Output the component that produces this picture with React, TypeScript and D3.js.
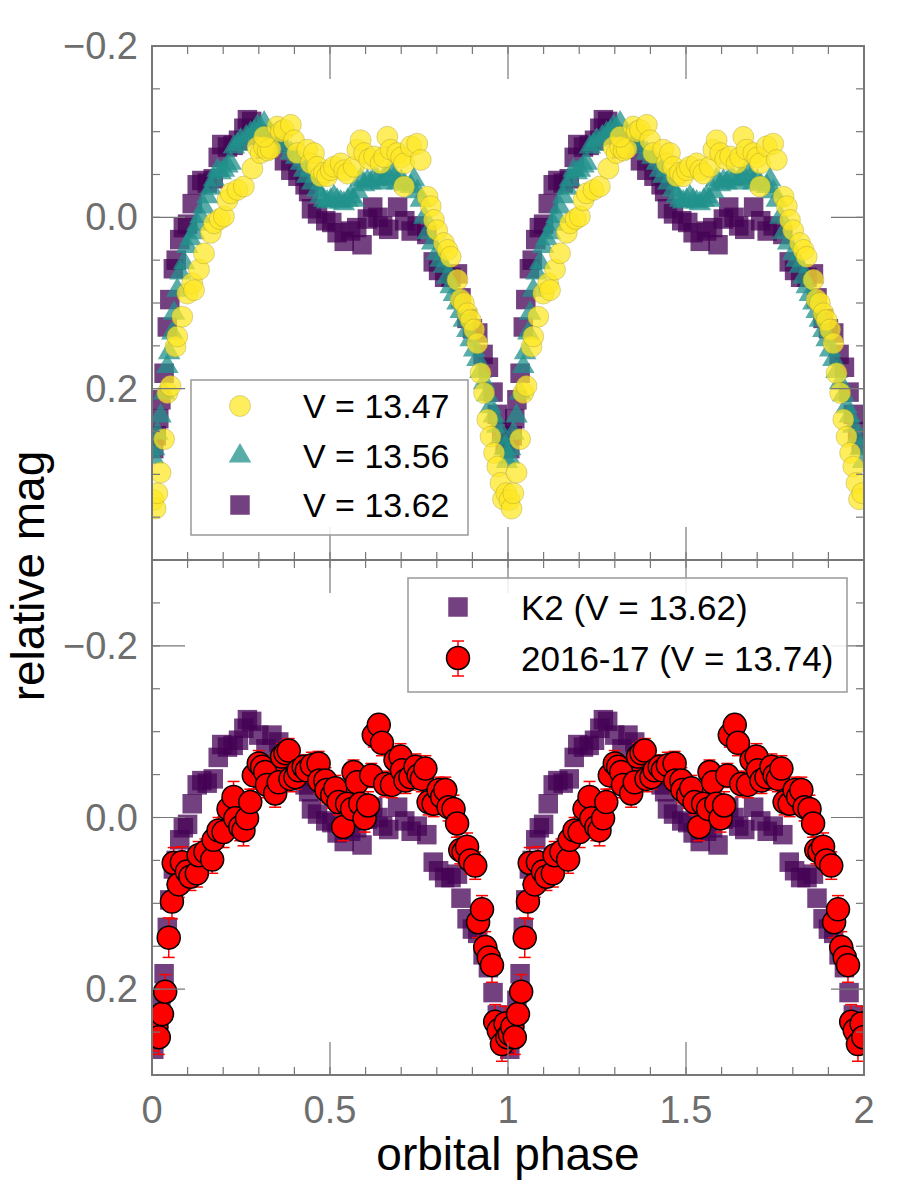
import React, { useEffect, useRef } from 'react';
import * as d3 from 'd3';

// K2 light curve (V = 13.62), [phase, relative mag]
const k2Data: [number, number][] = [
  [0.005, 0.27], [0.012, 0.255], [0.019, 0.235], [0.025, 0.213], [0.034, 0.182], [0.043, 0.128],
  [0.05, 0.096], [0.06, 0.06], [0.068, 0.05], [0.078, 0.026], [0.088, 0.012], [0.1, 0.008],
  [0.113, -0.016], [0.127, -0.038], [0.14, -0.043], [0.155, -0.04], [0.172, -0.045], [0.186, -0.07],
  [0.196, -0.085], [0.212, -0.082], [0.228, -0.084], [0.243, -0.09], [0.258, -0.104], [0.268, -0.114],
  [0.28, -0.112], [0.3, -0.096], [0.32, -0.08], [0.337, -0.096], [0.356, -0.088], [0.372, -0.066],
  [0.39, -0.055], [0.41, -0.048], [0.43, -0.038], [0.44, -0.03], [0.448, -0.01], [0.465, -0.004],
  [0.488, 0.004], [0.505, 0.006], [0.52, 0.018], [0.54, 0.028], [0.558, 0.016], [0.575, 0.012],
  [0.59, 0.032], [0.605, 0.002], [0.62, -0.012], [0.635, 0.0], [0.648, 0.01], [0.665, 0.014],
  [0.69, -0.012], [0.71, 0.004], [0.728, 0.016], [0.745, 0.01], [0.772, 0.02], [0.79, 0.052],
  [0.805, 0.062], [0.822, 0.07], [0.84, 0.07], [0.858, 0.066], [0.868, 0.094], [0.885, 0.118],
  [0.9, 0.13], [0.915, 0.135], [0.93, 0.16], [0.945, 0.175], [0.958, 0.204], [0.97, 0.23],
  [0.982, 0.25], [0.992, 0.265],
];

// V = 13.56
const midData: [number, number][] = [
  [0.003, 0.28], [0.006, 0.27], [0.015, 0.252], [0.024, 0.232], [0.034, 0.205], [0.043, 0.174],
  [0.048, 0.158], [0.057, 0.135], [0.062, 0.112], [0.071, 0.085], [0.08, 0.065], [0.09, 0.053],
  [0.099, 0.034], [0.108, 0.025], [0.118, 0.018], [0.127, 0.008], [0.136, -0.001], [0.145, -0.012],
  [0.155, -0.024], [0.165, -0.034], [0.174, -0.044], [0.184, -0.055], [0.193, -0.052], [0.202, -0.055],
  [0.212, -0.06], [0.221, -0.063], [0.23, -0.082], [0.24, -0.085], [0.249, -0.09], [0.265, -0.094],
  [0.277, -0.098], [0.287, -0.1], [0.296, -0.106], [0.305, -0.104], [0.315, -0.11], [0.333, -0.098],
  [0.35, -0.09], [0.371, -0.082], [0.39, -0.075], [0.405, -0.07], [0.418, -0.063], [0.427, -0.055],
  [0.436, -0.048], [0.45, -0.04], [0.464, -0.032], [0.474, -0.025], [0.483, -0.02], [0.492, -0.018],
  [0.502, -0.02], [0.511, -0.024], [0.52, -0.02], [0.53, -0.018], [0.539, -0.016], [0.55, -0.02],
  [0.558, -0.024], [0.567, -0.02], [0.577, -0.03], [0.586, -0.044], [0.596, -0.038], [0.605, -0.042],
  [0.614, -0.04], [0.624, -0.045], [0.633, -0.044], [0.645, -0.04], [0.652, -0.046], [0.661, -0.048],
  [0.671, -0.055], [0.68, -0.045], [0.689, -0.04], [0.7, -0.042], [0.71, -0.038], [0.727, -0.036],
  [0.736, -0.044], [0.745, -0.03], [0.755, -0.02], [0.765, 0.0], [0.774, 0.018], [0.787, 0.03],
  [0.801, 0.042], [0.81, 0.05], [0.82, 0.057], [0.83, 0.07], [0.839, 0.081], [0.848, 0.09],
  [0.858, 0.1], [0.867, 0.11], [0.876, 0.12], [0.886, 0.132], [0.895, 0.143], [0.905, 0.155],
  [0.914, 0.166], [0.923, 0.18], [0.933, 0.193], [0.942, 0.207], [0.951, 0.221], [0.96, 0.232],
  [0.97, 0.244], [0.98, 0.258], [0.99, 0.27], [0.997, 0.285],
];

// V = 13.47
const brightData: [number, number][] = [
  [0.004, 0.33], [0.01, 0.34], [0.015, 0.322], [0.024, 0.298], [0.034, 0.259], [0.043, 0.205],
  [0.052, 0.197], [0.066, 0.151], [0.071, 0.139], [0.085, 0.116], [0.099, 0.089], [0.113, 0.077],
  [0.118, 0.085], [0.132, 0.061], [0.146, 0.042], [0.165, 0.018], [0.174, 0.007], [0.19, 0.002],
  [0.202, -0.001], [0.212, -0.02], [0.221, -0.028], [0.24, -0.032], [0.258, -0.036], [0.282, -0.057],
  [0.296, -0.082], [0.305, -0.075], [0.315, -0.082], [0.325, -0.078], [0.333, -0.08], [0.315, -0.094],
  [0.352, -0.106], [0.362, -0.1], [0.371, -0.102], [0.39, -0.108], [0.399, -0.09], [0.408, -0.075],
  [0.436, -0.079], [0.446, -0.063], [0.455, -0.075], [0.464, -0.059], [0.474, -0.048], [0.483, -0.052],
  [0.492, -0.048], [0.502, -0.055], [0.511, -0.059], [0.53, -0.063], [0.54, -0.055], [0.549, -0.051],
  [0.567, -0.059], [0.577, -0.079], [0.586, -0.09], [0.596, -0.075], [0.61, -0.068], [0.624, -0.071],
  [0.642, -0.063], [0.652, -0.07], [0.661, -0.094], [0.67, -0.079], [0.689, -0.075], [0.7, -0.07],
  [0.708, -0.063], [0.727, -0.083], [0.745, -0.086], [0.755, -0.067], [0.708, -0.036], [0.774, -0.024],
  [0.783, -0.013], [0.792, 0.003], [0.801, 0.015], [0.82, 0.03], [0.83, 0.038], [0.839, 0.046],
  [0.858, 0.073], [0.867, 0.096], [0.876, 0.1], [0.886, 0.112], [0.895, 0.12], [0.905, 0.131],
  [0.914, 0.147], [0.923, 0.182], [0.933, 0.205], [0.942, 0.236], [0.951, 0.256], [0.961, 0.275],
  [0.97, 0.291], [0.979, 0.31], [0.986, 0.329], [0.995, 0.322],
];

// 2016-17 (V = 13.74), [phase, mag, error]
const newData: [number, number, number][] = [
  [0.005, 0.252, 0.02], [0.012, 0.244, 0.02], [0.019, 0.256, 0.02], [0.028, 0.229, 0.018],
  [0.037, 0.203, 0.02], [0.047, 0.14, 0.023], [0.056, 0.098, 0.02], [0.061, 0.053, 0.018],
  [0.075, 0.078, 0.015], [0.084, 0.052, 0.018], [0.098, 0.063, 0.017], [0.108, 0.069, 0.016],
  [0.126, 0.065, 0.016], [0.131, 0.044, 0.016], [0.15, 0.04, 0.015], [0.169, 0.049, 0.016],
  [0.173, 0.026, 0.016], [0.187, 0.015, 0.015], [0.201, 0.017, 0.018], [0.215, -0.01, 0.016],
  [0.229, -0.024, 0.018], [0.234, 0.001, 0.016], [0.248, 0.011, 0.016], [0.257, 0.015, 0.018],
  [0.267, 0.001, 0.016], [0.276, -0.018, 0.015], [0.286, -0.049, 0.016], [0.3, -0.063, 0.015],
  [0.309, -0.059, 0.014], [0.318, -0.053, 0.015], [0.323, -0.038, 0.015], [0.346, -0.028, 0.016],
  [0.356, -0.041, 0.015], [0.365, -0.071, 0.015], [0.375, -0.075, 0.014], [0.384, -0.078, 0.014],
  [0.389, -0.045, 0.015], [0.403, -0.047, 0.014], [0.412, -0.055, 0.014], [0.426, -0.059, 0.014],
  [0.435, -0.055, 0.014], [0.449, -0.061, 0.015], [0.468, -0.063, 0.014], [0.47, -0.043, 0.015],
  [0.487, -0.043, 0.015], [0.49, -0.032, 0.015], [0.506, -0.026, 0.015], [0.515, -0.034, 0.015],
  [0.524, -0.018, 0.015], [0.537, 0.011, 0.016], [0.548, -0.016, 0.015], [0.562, -0.01, 0.016],
  [0.566, -0.053, 0.014], [0.576, -0.041, 0.015], [0.585, -0.016, 0.015], [0.597, 0.001, 0.016],
  [0.607, -0.014, 0.016], [0.616, -0.049, 0.014], [0.623, -0.096, 0.014], [0.637, -0.108, 0.012],
  [0.646, -0.087, 0.015], [0.655, -0.039, 0.015], [0.674, -0.038, 0.015], [0.684, -0.067, 0.016],
  [0.698, -0.071, 0.015], [0.702, -0.055, 0.015], [0.712, -0.043, 0.015], [0.726, -0.047, 0.015],
  [0.74, -0.059, 0.015], [0.749, -0.049, 0.015], [0.758, -0.045, 0.015], [0.768, -0.057, 0.015],
  [0.777, -0.018, 0.015], [0.791, -0.016, 0.015], [0.805, -0.032, 0.015], [0.815, -0.024, 0.015],
  [0.824, -0.032, 0.015], [0.833, -0.012, 0.016], [0.847, -0.01, 0.016], [0.857, 0.007, 0.016],
  [0.866, 0.038, 0.016], [0.875, 0.04, 0.016], [0.885, 0.034, 0.016], [0.894, 0.05, 0.016],
  [0.908, 0.056, 0.016], [0.916, 0.122, 0.018], [0.927, 0.107, 0.016], [0.936, 0.151, 0.018],
  [0.946, 0.163, 0.018], [0.955, 0.172, 0.02], [0.964, 0.238, 0.02], [0.974, 0.248, 0.02],
  [0.983, 0.264, 0.02], [0.993, 0.24, 0.02], [0.998, 0.256, 0.02],
];

const topLegend = ['V = 13.47', 'V = 13.56', 'V = 13.62'];
const bottomLegend = ['K2 (V = 13.62)', '2016-17 (V = 13.74)'];
const xTickLabels = ['0', '0.5', '1', '1.5', '2'];

const YELLOW = '#fde725';
const TEAL = '#21918c';
const PURPLE = '#440154';
const AXIS_GRAY = '#777777';
const FONT = '"Liberation Sans", Arial, sans-serif';

// fold the phases onto two cycles
const twoCycles = <T extends number[]>(rows: T[]): T[] =>
  [0, 1].flatMap((c) => rows.map((r) => [r[0] + c, ...r.slice(1)] as unknown as T));

const App: React.FC = () => {
  const ref = useRef<SVGSVGElement | null>(null);

  useEffect(() => {
    if (!ref.current) return;
    const svg = d3.select(ref.current).html('');

    const left = 152, right = 864, top = 46, mid = 560, bottom = 1075;
    const x = d3.scaleLinear().domain([0, 2]).range([left, right]);
    const yTop = d3.scaleLinear().domain([-0.2, 0.4]).range([top, mid]);
    const yBot = d3.scaleLinear().domain([-0.3, 0.3]).range([mid, bottom]);

    const defs = svg.append('defs');
    defs.append('clipPath').attr('id', 'clipTop')
      .append('rect').attr('x', left).attr('y', top).attr('width', right - left).attr('height', mid - top);
    defs.append('clipPath').attr('id', 'clipBot')
      .append('rect').attr('x', left).attr('y', mid).attr('width', right - left).attr('height', bottom - mid);

    const squareSym = d3.symbol(d3.symbolSquare, 380)();
    const triSym = d3.symbol(d3.symbolTriangle, 220)();
    const rBright = 10.5;

    // ---------- top panel ----------
    const gTop = svg.append('g').attr('clip-path', 'url(#clipTop)');
    gTop.selectAll('.k2').data(twoCycles(k2Data)).enter().append('path')
      .attr('d', squareSym)
      .attr('transform', (d) => `translate(${x(d[0])},${yTop(d[1])})`)
      .attr('fill', PURPLE).attr('fill-opacity', 0.75);
    gTop.selectAll('.mid').data(twoCycles(midData)).enter().append('path')
      .attr('d', triSym)
      .attr('transform', (d) => `translate(${x(d[0])},${yTop(d[1])})`)
      .attr('fill', TEAL).attr('fill-opacity', 0.75);
    gTop.selectAll('.bright').data(twoCycles(brightData)).enter().append('circle')
      .attr('cx', (d) => x(d[0])).attr('cy', (d) => yTop(d[1])).attr('r', rBright)
      .attr('fill', YELLOW).attr('fill-opacity', 0.75)
      .attr('stroke', '#9a8f3a').attr('stroke-opacity', 0.6).attr('stroke-width', 0.6);

    // ---------- bottom panel ----------
    const gBot = svg.append('g').attr('clip-path', 'url(#clipBot)');
    gBot.selectAll('.k2').data(twoCycles(k2Data)).enter().append('path')
      .attr('d', squareSym)
      .attr('transform', (d) => `translate(${x(d[0])},${yBot(d[1])})`)
      .attr('fill', PURPLE).attr('fill-opacity', 0.75);
    const reds = twoCycles(newData);
    const eb = gBot.selectAll('.eb').data(reds).enter().append('g')
      .attr('stroke', '#ff0000').attr('stroke-width', 1.5);
    eb.append('line')
      .attr('x1', (d) => x(d[0])).attr('x2', (d) => x(d[0]))
      .attr('y1', (d) => yBot(d[1] - d[2])).attr('y2', (d) => yBot(d[1] + d[2]));
    eb.append('line')
      .attr('x1', (d) => x(d[0]) - 6).attr('x2', (d) => x(d[0]) + 6)
      .attr('y1', (d) => yBot(d[1] - d[2])).attr('y2', (d) => yBot(d[1] - d[2]));
    eb.append('line')
      .attr('x1', (d) => x(d[0]) - 6).attr('x2', (d) => x(d[0]) + 6)
      .attr('y1', (d) => yBot(d[1] + d[2])).attr('y2', (d) => yBot(d[1] + d[2]));
    gBot.selectAll('.red').data(reds).enter().append('circle')
      .attr('cx', (d) => x(d[0])).attr('cy', (d) => yBot(d[1])).attr('r', 11.5)
      .attr('fill', '#ff0000').attr('stroke', '#000').attr('stroke-width', 1.5);

    // ---------- axes: inward ticks on all sides ----------
    const axes = svg.append('g').attr('stroke', AXIS_GRAY);
    const xMajor = d3.range(0, 2.0001, 0.5);
    const xMinor = d3.range(0, 2.0001, 0.1);
    const drawPanel = (y: d3.ScaleLinear<number, number>, y0: number, y1: number, yMajor: number[], yMinor: number[]) => {
      [[y0, 1], [y1, -1]].forEach(([yy, dir]) => {
        xMinor.forEach((v) => axes.append('line').attr('x1', x(v)).attr('x2', x(v))
          .attr('y1', yy).attr('y2', yy + dir * 8).attr('stroke-width', 1.2));
        xMajor.forEach((v) => axes.append('line').attr('x1', x(v)).attr('x2', x(v))
          .attr('y1', yy).attr('y2', yy + dir * 33).attr('stroke-width', 1.2));
      });
      [[left, 1], [right, -1]].forEach(([xx, dir]) => {
        yMinor.forEach((v) => axes.append('line').attr('y1', y(v)).attr('y2', y(v))
          .attr('x1', xx).attr('x2', xx + dir * 8).attr('stroke-width', 1.2));
        yMajor.forEach((v) => axes.append('line').attr('y1', y(v)).attr('y2', y(v))
          .attr('x1', xx).attr('x2', xx + dir * 33).attr('stroke-width', 1.2));
      });
      axes.append('rect').attr('x', left).attr('y', y0).attr('width', right - left).attr('height', y1 - y0)
        .attr('fill', 'none').attr('stroke-width', 2);
    };
    drawPanel(yTop, top, mid, [-0.2, 0, 0.2, 0.4], d3.range(-0.2, 0.4001, 0.05));
    drawPanel(yBot, mid, bottom, [-0.2, 0, 0.2], d3.range(-0.3, 0.3001, 0.05));

    const fmt = (v: number) => (v < 0 ? '\u2212' : '') + Math.abs(v).toFixed(1);
    const labels = svg.append('g').attr('font-family', FONT).attr('font-size', 38).attr('fill', '#6e6e6e');
    [-0.2, 0, 0.2].forEach((v) => {
      labels.append('text').attr('x', 138).attr('y', yTop(v)).attr('text-anchor', 'end')
        .attr('dominant-baseline', 'central').text(fmt(v));
      labels.append('text').attr('x', 138).attr('y', yBot(v)).attr('text-anchor', 'end')
        .attr('dominant-baseline', 'central').text(fmt(v));
    });
    xMajor.forEach((v, i) => {
      labels.append('text').attr('x', x(v)).attr('y', 1123).attr('text-anchor', 'middle').text(xTickLabels[i]);
    });

    svg.append('text').attr('x', 508).attr('y', 1170).attr('text-anchor', 'middle')
      .attr('font-family', FONT).attr('font-size', 46).attr('fill', '#000').text('orbital phase');
    svg.append('text').attr('transform', 'translate(44,576) rotate(-90)')
      .attr('text-anchor', 'middle').attr('font-family', FONT).attr('font-size', 46).attr('fill', '#000')
      .text('relative mag');

    // ---------- legends ----------
    const lg1 = svg.append('g').attr('font-family', FONT).attr('font-size', 34);
    lg1.append('rect').attr('x', 191).attr('y', 380).attr('width', 277).attr('height', 155)
      .attr('fill', '#fff').attr('fill-opacity', 0.85).attr('stroke', '#999').attr('stroke-width', 1.5);
    const rowsY = [406, 456, 505];
    lg1.append('circle').attr('cx', 240).attr('cy', rowsY[0]).attr('r', rBright)
      .attr('fill', YELLOW).attr('fill-opacity', 0.75).attr('stroke', '#9a8f3a').attr('stroke-opacity', 0.6).attr('stroke-width', 0.6);
    lg1.append('path').attr('d', triSym).attr('transform', `translate(240,${rowsY[1]})`)
      .attr('fill', TEAL).attr('fill-opacity', 0.75);
    lg1.append('path').attr('d', squareSym).attr('transform', `translate(240,${rowsY[2]})`)
      .attr('fill', PURPLE).attr('fill-opacity', 0.75);
    topLegend.forEach((t, i) => lg1.append('text').attr('x', 303).attr('y', rowsY[i])
      .attr('dominant-baseline', 'central').text(t));

    const lg2 = svg.append('g').attr('font-family', FONT).attr('font-size', 35);
    lg2.append('rect').attr('x', 408).attr('y', 578).attr('width', 439).attr('height', 114)
      .attr('fill', '#fff').attr('fill-opacity', 0.85).attr('stroke', '#999').attr('stroke-width', 1.5);
    lg2.append('path').attr('d', squareSym).attr('transform', 'translate(458,607)')
      .attr('fill', PURPLE).attr('fill-opacity', 0.75);
    const eg = lg2.append('g').attr('stroke', '#ff0000').attr('stroke-width', 1.5);
    eg.append('line').attr('x1', 458).attr('x2', 458).attr('y1', 641).attr('y2', 676);
    eg.append('line').attr('x1', 452).attr('x2', 464).attr('y1', 641).attr('y2', 641);
    eg.append('line').attr('x1', 452).attr('x2', 464).attr('y1', 676).attr('y2', 676);
    lg2.append('circle').attr('cx', 458).attr('cy', 658).attr('r', 11.5)
      .attr('fill', '#ff0000').attr('stroke', '#000').attr('stroke-width', 1.5);
    bottomLegend.forEach((t, i) => lg2.append('text').attr('x', 521).attr('y', [607, 658][i])
      .attr('dominant-baseline', 'central').text(t));
  }, []);

  return (
    <svg ref={ref} width={900} height={1194}
      style={{ position: 'absolute', left: 0, top: 0, background: '#fff' }} />
  );
};

export default App;
